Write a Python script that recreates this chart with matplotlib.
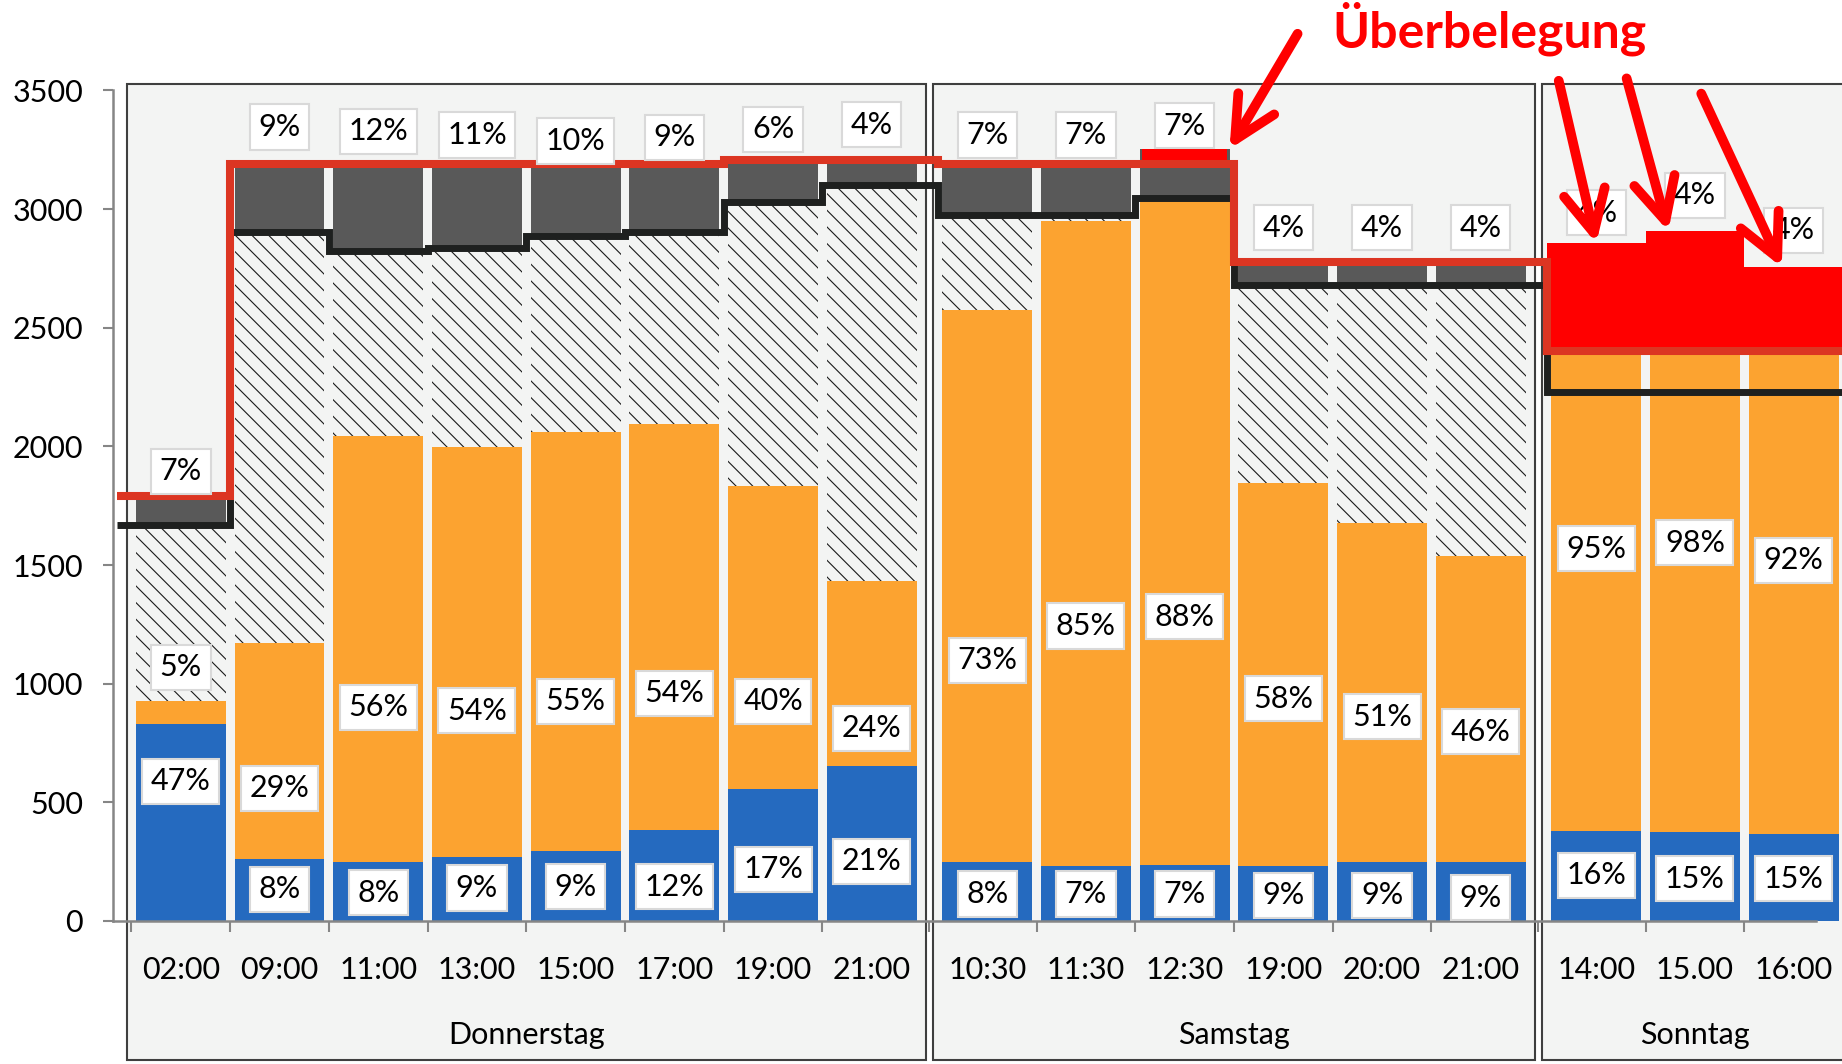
import matplotlib

matplotlib.use("Agg")
import matplotlib.pyplot as plt
from matplotlib.patches import Rectangle

plt.rcParams["font.family"] = ["Lato", "DejaVu Sans"]
plt.rcParams["hatch.linewidth"] = 0.8

# --- Daten ---------------------------------------------------------------
days = ["Donnerstag", "Samstag", "Sonntag"]
day_sizes = [8, 6, 3]
times = ["02:00", "09:00", "11:00", "13:00", "15:00", "17:00", "19:00", "21:00",
         "10:30", "11:30", "12:30", "19:00", "20:00", "21:00",
         "14:00", "15.00", "16:00"]

blue = [830, 260, 250, 270, 295, 385, 555, 655,
        248, 233, 238, 233, 248, 248,
        381, 373, 367]
orange = [96, 912, 1795, 1728, 1765, 1710, 1278, 777,
          2327, 2717, 2807, 1613, 1430, 1292,
          2359, 2433, 2284]
hatched = [744, 1733, 777, 838, 826, 808, 1198, 1668,
           400, 25, 0, 835, 1003, 1141,
           0, 0, 0]
grey = [122, 283, 366, 352, 302, 285, 177, 108,
        213, 213, 208, 97, 97, 97,
        116, 101, 104]
black_line = [1670, 2905, 2822, 2836, 2886, 2903, 3031, 3100,
              2975, 2975, 3045, 2681, 2681, 2681,
              2230, 2230, 2230]
red_line = [1792, 3188, 3188, 3188, 3188, 3188, 3208, 3208,
            3188, 3188, 3188, 2778, 2778, 2778,
            2400, 2400, 2400]

pct_blue = ["47%", "8%", "8%", "9%", "9%", "12%", "17%", "21%",
            "8%", "7%", "7%", "9%", "9%", "9%", "16%", "15%", "15%"]
pct_orange = ["5%", "29%", "56%", "54%", "55%", "54%", "40%", "24%",
              "73%", "85%", "88%", "58%", "51%", "46%", "95%", "98%", "92%"]
pct_grey = ["7%", "9%", "12%", "11%", "10%", "9%", "6%", "4%",
            "7%", "7%", "7%", "4%", "4%", "4%", "4%", "4%", "4%"]

# Höhen der (manuell verschobenen) Beschriftungen
blue_label_y = [589, 134, 119, 139, 144, 144, 218, 252,
                114, 114, 114, 109, 109, 99, 193, 178, 178]
orange_label_y = [1069, 559, 901, 886, 926, 960, 926, 812,
                  1099, 1243, 1282, 936, 861, 797, 1569, 1594, 1520]
grey_label_y = [1896, 3346, 3327, 3312, 3287, 3302, 3337, 3356,
                3312, 3312, 3351, 2921, 2921, 2921, 2985, 3059, 2911]

# --- Stil ----------------------------------------------------------------
BG = "#F3F4F3"
BLUE = "#256ABF"
ORANGE = "#FCA330"
DARK = "#595959"
BLACK = "#1E201F"
RED_LINE = "#DC3522"
RED = "#FF0000"
AXIS = "#868686"
BAR_W = 0.91
GAP = 0.17
FS = 22

# Positionen mit kleinem Abstand zwischen den Tagen
x = []
day_of = []
start = 0.0
for d, n in zip(days, day_sizes):
    x += [start + i for i in range(n)]
    day_of += [d] * n
    start += n + GAP

fig = plt.figure(figsize=(18.42, 10.64), dpi=100)
ax = fig.add_axes([0.0612, 0.1344, 0.9388, 0.7806])
ax.patch.set_visible(False)
ax.set_xlim(-0.69, 16.83)
ax.set_ylim(0, 3500)

# Tages-Kästen
i0 = 0
for d, n in zip(days, day_sizes):
    left = x[i0] - 0.55
    right = x[i0 + n - 1] + 0.55
    ax.add_patch(Rectangle((left, -585), right - left, 3529 + 585,
                           facecolor=BG, edgecolor="#3F3F3F", lw=1.5,
                           clip_on=False, zorder=0))
    ax.text((left + right) / 2, -481, d, ha="center", va="center", fontsize=FS)
    i0 += n

# gestapelte Balken
b1 = blue
b2 = [a + b for a, b in zip(b1, orange)]
b3 = [a + b for a, b in zip(b2, hatched)]
top = [a + b for a, b in zip(b3, grey)]
ax.bar(x, blue, BAR_W, color=BLUE, lw=0, zorder=2)
ax.bar(x, orange, BAR_W, bottom=b1, color=ORANGE, lw=0, zorder=2)
ax.bar(x, hatched, BAR_W, bottom=b2, facecolor=BG, edgecolor="#1A1A1A",
       hatch="\\\\", lw=0, zorder=2)
ax.bar(x, grey, BAR_W, bottom=b3, color=DARK, lw=0, zorder=2)

# Überbelegung (rot markiert)
for xi, t, r, d in zip(x, top, red_line, day_of):
    if t > r + 20:
        w = 1.0 if d == "Sonntag" else BAR_W * 0.95
        ax.bar(xi, t - r, w, bottom=r, color=RED, lw=0, zorder=3)


def step_xy(xs, ys, overhang=0.15):
    px, py = [], []
    for i, (xc, yv) in enumerate(zip(xs, ys)):
        left = xc - 0.5
        if i == 0:
            left -= overhang
        else:
            px.append(left)
            py.append(ys[i - 1])
        px += [left, xc + 0.5]
        py += [yv, yv]
    return px, py


ax.plot(*step_xy(x, black_line), color=BLACK, lw=5, zorder=4,
        solid_joinstyle="miter", solid_capstyle="butt")
ax.plot(*step_xy(x, red_line), color=RED_LINE, lw=5.8, zorder=4.5,
        solid_joinstyle="miter", solid_capstyle="butt")

# Beschriftungen
box = dict(boxstyle="square,pad=0.28", fc="white", ec="#D9D9D9", lw=1.5)
for i, xc in enumerate(x):
    for y, s in ((blue_label_y[i], pct_blue[i]),
                 (orange_label_y[i], pct_orange[i]),
                 (grey_label_y[i], pct_grey[i])):
        ax.text(xc, y, s, ha="center", va="center", fontsize=FS,
                bbox=box, zorder=5)
    ax.text(xc, -207, times[i], ha="center", va="center", fontsize=FS)

# Pfeile
arrows = [  # (Index, x-Versatz, Schwanz-Versatz in pt)
    (10, BAR_W / 2, (49, 83)),
    (14, 0.0, (-27, 117)),
    (15, -0.27, (-30, 110)),
    (16, -0.12, (-58, 125)),
]
for idx, dx, off in arrows:
    ax.annotate("", xy=(x[idx] + dx, top[idx]), xytext=off,
                textcoords="offset points", annotation_clip=False,
                arrowprops=dict(arrowstyle="->,head_length=1.0,head_width=0.5",
                                mutation_scale=30, lw=7, color=RED,
                                shrinkA=0, shrinkB=0, capstyle="round",
                                joinstyle="round"),
                zorder=6)

fig.text(1489 / 1842, 1 - 48 / 1064, "Überbelegung", color=RED, fontsize=36,
         fontweight="bold", ha="center", va="baseline")

# Achsen
ax.set_yticks(range(0, 3501, 500))
ax.tick_params(axis="y", length=7.4, width=1.5, color=AXIS, labelsize=FS, pad=14)
edges = [x[0] - 0.5] + [(a + b) / 2 for a, b in zip(x[:-1], x[1:])]
ax.set_xticks(edges)
ax.set_xticklabels([])
ax.tick_params(axis="x", length=7.7, width=1.5, color=AXIS)
for s in ("top", "right"):
    ax.spines[s].set_visible(False)
for s in ("left", "bottom"):
    ax.spines[s].set_color(AXIS)
    ax.spines[s].set_linewidth(1.8)
ax.spines["bottom"].set_bounds(-0.69, 16.57)
ax.spines["bottom"].set_zorder(4)

fig.savefig("out.png", dpi=100)
